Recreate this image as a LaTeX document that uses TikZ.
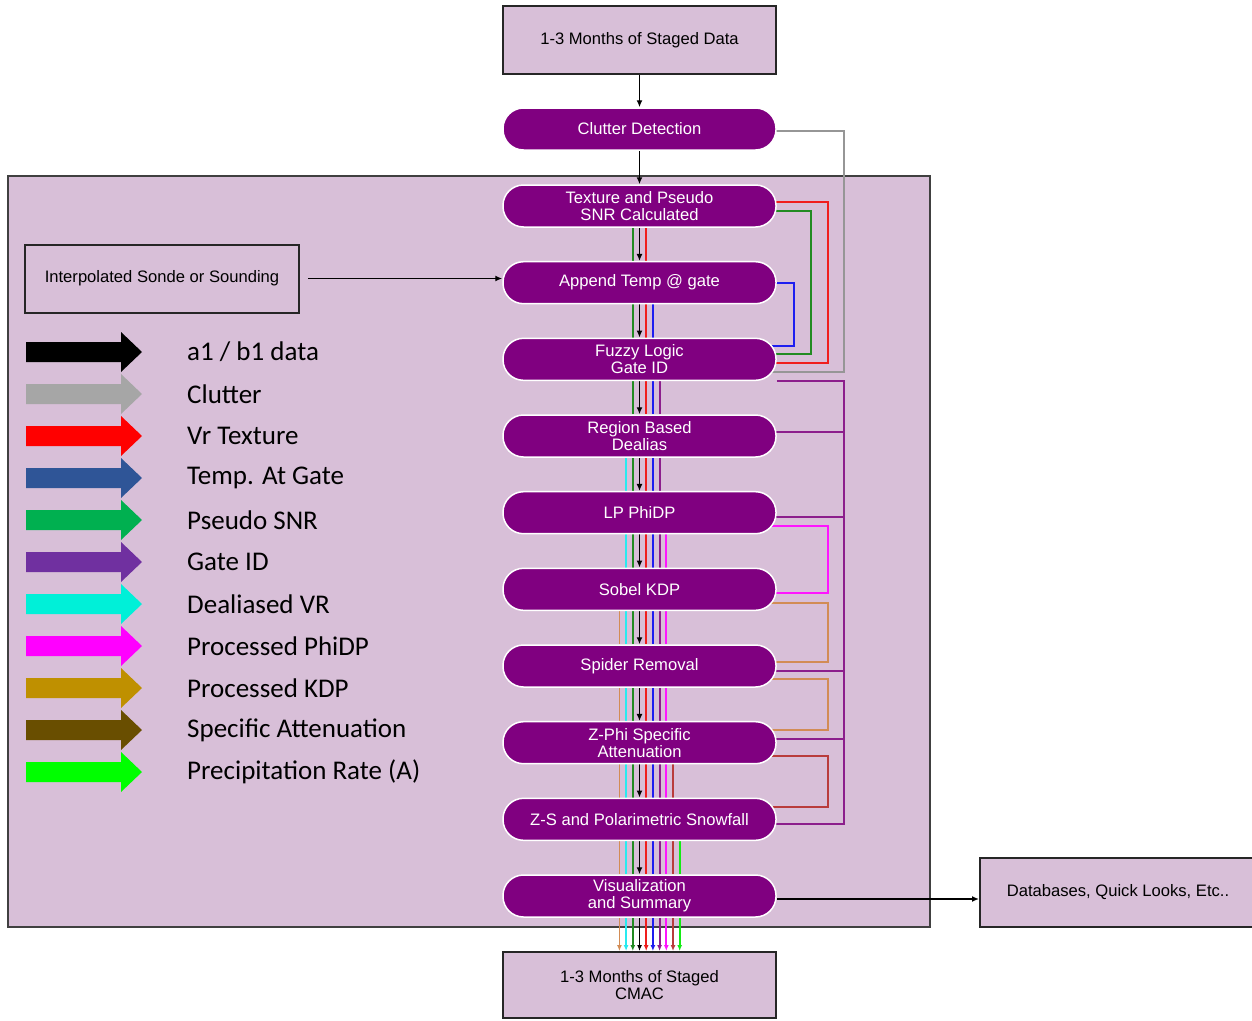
\documentclass[tikz,border=0pt]{standalone}
\usepackage{fontspec}
\setmainfont{Liberation Sans}
\newfontfamily\legfont{Carlito}
\usetikzlibrary{arrows.meta,calc}
\pgfdeclarelayer{back}\pgfdeclarelayer{mid}\pgfsetlayers{back,mid,main}
\definecolor{boxfill}{RGB}{216,191,216}
\definecolor{pillfill}{RGB}{128,0,128}
\definecolor{cGreen}{RGB}{34,139,34}
\definecolor{cRed}{RGB}{240,30,30}
\definecolor{cBlue}{RGB}{30,30,240}
\definecolor{cPurple}{RGB}{140,30,140}
\definecolor{cCyan}{RGB}{40,235,240}
\definecolor{cMag}{RGB}{255,20,255}
\definecolor{cTan}{RGB}{210,140,85}
\definecolor{cDred}{RGB}{185,60,60}
\definecolor{cLime}{RGB}{20,235,20}
\definecolor{cGray}{RGB}{150,150,150}
\definecolor{lGray}{RGB}{166,166,166}
\definecolor{lRed}{RGB}{255,0,0}
\definecolor{lBlue}{RGB}{47,85,151}
\definecolor{lGreen}{RGB}{0,176,80}
\definecolor{lPurple}{RGB}{112,48,160}
\definecolor{lCyan}{RGB}{0,240,216}
\definecolor{lMag}{RGB}{255,0,255}
\definecolor{lGold}{RGB}{191,144,0}
\definecolor{lBrown}{RGB}{105,78,0}
\definecolor{lLime}{RGB}{0,255,0}
\newcommand\legrow[4]{%
  \fill[#2] (26,#1-10) -- (121,#1-10) -- (121,#1-20) -- (142,#1) -- (121,#1+20) -- (121,#1+10) -- (26,#1+10) -- cycle;
  \node[legtext] (#4) at (187,#1) {#3};}
\newcommand\bund[3]{%
  \foreach \c/\k in {#3} {\draw[\c, line width=1.8pt] ($(#1.south)+(\k*6.7,0)$) -- ($(#2.north)+(\k*6.7,0)$);}
  \draw[blk] (#1.south) -- (#2.north);}
\begin{document}
\begin{tikzpicture}[x=1pt,y=-1pt,
  pill/.style={draw=white, line width=1.5pt, fill=pillfill, rounded corners=20.5pt, minimum width=273pt, minimum height=42pt, text=white, align=center, inner sep=0pt, font=\fontsize{16.6}{17}\selectfont},
  plainbox/.style={draw=black!85, line width=2pt, fill=boxfill, align=center, inner sep=0pt, font=\fontsize{16.6}{17.5}\selectfont},
  blk/.style={black, line width=1.6pt, -{Latex[length=7pt,width=6pt]}},
  conn/.style={line width=1.8pt},
  legtext/.style={anchor=west, font=\legfont\fontsize{27}{29}\selectfont, inner sep=0pt}]
\useasboundingbox (0,0) rectangle (1252,1020);
\begin{pgfonlayer}{back}
\fill[white] (0,0) rectangle (1252,1020);
\node[draw=black!75, line width=2pt, fill=boxfill, minimum width=922pt, minimum height=751pt, inner sep=0pt] (frame) at (469,551.5) {};
\end{pgfonlayer}
% boxes
\node[plainbox, minimum width=273pt, minimum height=68pt] (top) at (639.5,40) {1-3 Months of Staged Data};
\node[plainbox, minimum width=273pt, minimum height=66pt] (cmac) at (639.5,985) {1-3 Months of Staged\\CMAC};
\node[plainbox, minimum width=274pt, minimum height=68pt] (sonde) at (162,278.5) {Interpolated Sonde or Sounding};
\node[plainbox, minimum width=276pt, minimum height=69pt] (db) at (1118,892.5) {Databases, Quick Looks, Etc..};
% pills
\node[pill] (clut) at (639.5,129) {Clutter Detection};
\node[pill] (tex) at (639.5,206) {Texture and Pseudo\\SNR Calculated};
\node[pill] (app) at (639.5,282.7) {Append Temp @ gate};
\node[pill] (fuz) at (639.5,359.3) {Fuzzy Logic\\Gate ID};
\node[pill] (reg) at (639.5,436) {Region Based\\Dealias};
\node[pill] (lp) at (639.5,512.7) {LP PhiDP};
\node[pill] (sob) at (639.5,589.3) {Sobel KDP};
\node[pill] (spi) at (639.5,666) {Spider Removal};
\node[pill] (zph) at (639.5,742.7) {Z-Phi Specific\\Attenuation};
\node[pill] (zs) at (639.5,819.3) {Z-S and Polarimetric Snowfall};
\node[pill] (vis) at (639.5,896) {Visualization\\and Summary};
% legend
\legrow{352}{black}{a1 / b1 data}{l1}
\legrow{394}{lGray}{Clutter}{l2}
\legrow{436}{lRed}{Vr Texture}{l3}
\legrow{478}{lBlue}{Temp. At Gate}{l4}
\legrow{520}{lGreen}{Pseudo SNR}{l5}
\legrow{562}{lPurple}{Gate ID}{l6}
\legrow{604}{lCyan}{Dealiased VR}{l7}
\legrow{646}{lMag}{Processed PhiDP}{l8}
\legrow{688}{lGold}{Processed KDP}{l9}
\legrow{730}{lBrown}{Specific Attenuation}{l10}
\legrow{772}{lLime}{Precipitation Rate (A)}{l11}
% connectors
\begin{pgfonlayer}{mid}
\draw[blk] (top.south) -- (clut.north);
\draw[blk] (clut.south) -- (tex.north);
\bund{tex}{app}{cGreen/-1,cRed/1}
\bund{app}{fuz}{cGreen/-1,cRed/1,cBlue/2}
\bund{fuz}{reg}{cGreen/-1,cRed/1,cBlue/2,cPurple/3}
\bund{reg}{lp}{cCyan/-2,cGreen/-1,cRed/1,cBlue/2,cPurple/3}
\bund{lp}{sob}{cCyan/-2,cGreen/-1,cRed/1,cBlue/2,cPurple/3,cMag/4}
\bund{sob}{spi}{cTan/-3,cCyan/-2,cGreen/-1,cRed/1,cBlue/2,cPurple/3,cMag/4}
\bund{spi}{zph}{cTan/-3,cCyan/-2,cGreen/-1,cRed/1,cBlue/2,cPurple/3,cMag/4}
\bund{zph}{zs}{cTan/-3,cCyan/-2,cGreen/-1,cRed/1,cBlue/2,cPurple/3,cMag/4,cDred/5}
\bund{zs}{vis}{cTan/-3,cCyan/-2,cGreen/-1,cRed/1,cBlue/2,cPurple/3,cMag/4,cDred/5,cLime/6}
\foreach \c/\k in {cTan/-3,cCyan/-2,cGreen/-1,black/0,cRed/1,cBlue/2,cPurple/3,cMag/4,cDred/5,cLime/6}
  {\draw[\c, line width=1.8pt, -{Latex[length=6pt,width=5pt]}] ($(vis.south)+(\k*6.7,0)$) -- ($(cmac.north)+(\k*6.7,0)$);}
% right side loops
\draw[conn, cGray] ($(clut.east)+(-8,2)$) -| ($(fuz.east)+(67,12.7)$) -- ($(fuz.east)+(-8,12.7)$);
\draw[conn, cRed] ($(tex.east)+(-8,-4)$) -| ($(fuz.east)+(51,3.7)$) -- ($(fuz.east)+(-8,3.7)$);
\draw[conn, cGreen] ($(tex.east)+(-8,5)$) -| ($(fuz.east)+(34,-5.3)$) -- ($(fuz.east)+(-8,-5.3)$);
\draw[conn, cBlue] ($(app.east)+(-8,0)$) -| ($(fuz.east)+(17,-13.3)$) -- ($(fuz.east)+(-8,-13.3)$);
\draw[conn, cPurple] ($(fuz.east)+(0,21.7)$) -| ($(zs.east)+(67,4.7)$) -- ($(zs.east)+(-8,4.7)$);
\draw[conn, cPurple] ($(reg.east)+(-8,-4)$) -- ++(75,0);
\draw[conn, cPurple] ($(lp.east)+(-8,4.3)$) -- ++(75,0);
\draw[conn, cPurple] ($(spi.east)+(-8,5)$) -- ++(75,0);
\draw[conn, cPurple] ($(zph.east)+(-8,-3.7)$) -- ++(75,0);
\draw[conn, cMag] ($(lp.east)+(-8,13.3)$) -| ($(sob.east)+(51,3.7)$) -- ($(sob.east)+(-8,3.7)$);
\draw[conn, cTan] ($(sob.east)+(-8,13.7)$) -| ($(spi.east)+(51,-4)$) -- ($(spi.east)+(-8,-4)$);
\draw[conn, cTan] ($(spi.east)+(-8,13)$) -| ($(zph.east)+(51,-12.7)$) -- ($(zph.east)+(-8,-12.7)$);
\draw[conn, cDred] ($(zph.east)+(-8,13.3)$) -| ($(zs.east)+(51,-12.3)$) -- ($(zs.east)+(-8,-12.3)$);
% inputs and outputs
\draw[blk, shorten <=8pt] (sonde.east) -- (sonde.east -| app.west);
\path ($(vis.east)+(0,3)$) coordinate (vo);
\draw[blk] (vo) -- (vo -| db.west);
\end{pgfonlayer}
\end{tikzpicture}
\end{document}
